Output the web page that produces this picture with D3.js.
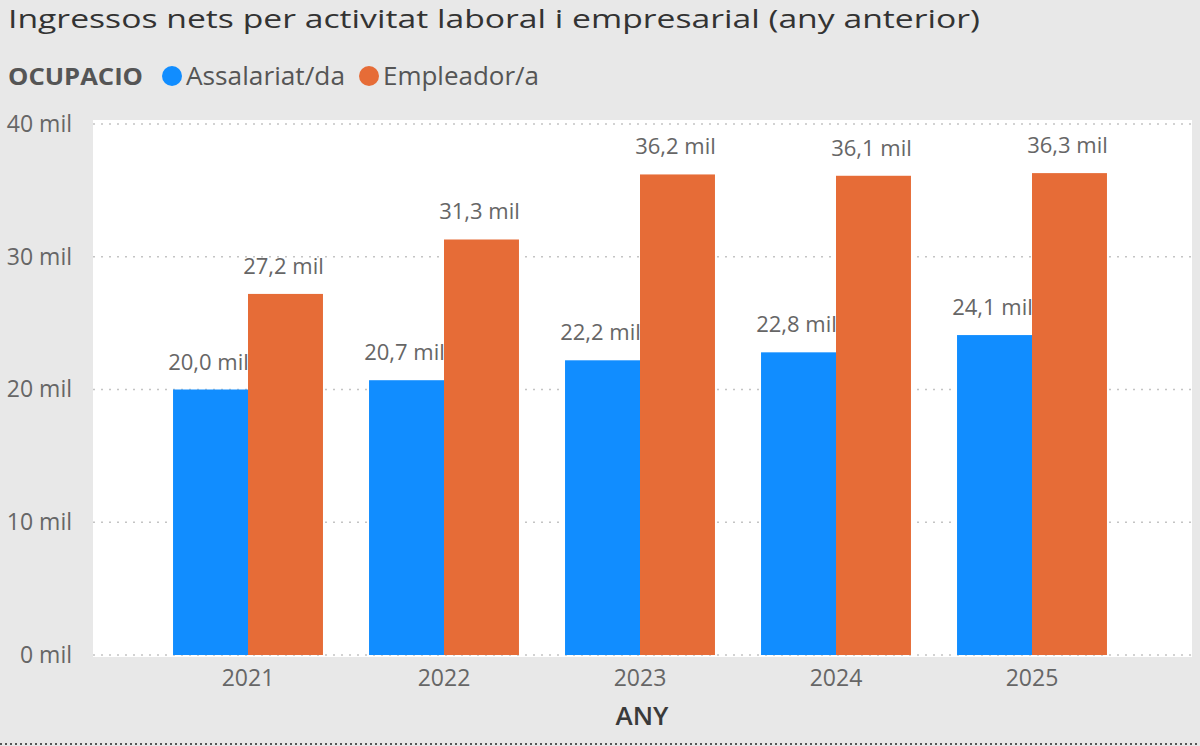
<!DOCTYPE html>
<html>
<head>
<meta charset="utf-8">
<script src="https://cdn.jsdelivr.net/npm/d3@7"></script>
<style>
  body { margin: 0; background: #e8e8e8; }
  text { font-family: "Open Sans", "Noto Sans", sans-serif; }
</style>
</head>
<body>
<div id="chart"></div>
<script>
const years = ["2021", "2022", "2023", "2024", "2025"];
const seriesNames = ["Assalariat/da", "Empleador/a"];
const assalariat = [20.0, 20.7, 22.2, 22.8, 24.1];
const empleador = [27.2, 31.3, 36.2, 36.1, 36.3];
const yTicks = [0, 10, 20, 30, 40];
const colors = ["#118dff", "#e66c37"];

const W = 1200, H = 746;
const PLOT_L = 93, PLOT_R = 1192, PLOT_T = 120, PLOT_B = 657;
const FONT = "'Open Sans', 'Noto Sans', sans-serif";

const svg = d3.select("#chart").append("svg")
    .attr("width", W)
    .attr("height", H);

svg.append("rect").attr("width", W).attr("height", H).attr("fill", "#e8e8e8");

// title and legend
svg.append("text")
    .attr("x", 8).attr("y", 28)
    .attr("font-size", 26)
    .attr("fill", "#333")
    .attr("textLength", 972)
    .attr("lengthAdjust", "spacingAndGlyphs")
    .text("Ingressos nets per activitat laboral i empresarial (any anterior)");

const legend = svg.append("g").attr("transform", "translate(0, 76)");
legend.append("text")
    .attr("x", 8).attr("y", 9)
    .attr("font-size", 24).attr("font-weight", "bold")
    .attr("fill", "#555")
    .attr("textLength", 135)
    .attr("lengthAdjust", "spacingAndGlyphs")
    .text("OCUPACIO");
const legendX = [172, 369];
const legendW = [159, 156];
seriesNames.forEach((name, i) => {
    legend.append("circle")
        .attr("cx", legendX[i]).attr("cy", 0).attr("r", 10)
        .attr("fill", colors[i]);
    legend.append("text")
        .attr("x", legendX[i] + 14).attr("y", 9)
        .attr("font-size", 25).attr("fill", "#555")
        .attr("textLength", legendW[i])
        .attr("lengthAdjust", "spacingAndGlyphs")
        .text(name);
});

// plot area
svg.append("rect")
    .attr("x", PLOT_L).attr("y", PLOT_T)
    .attr("width", PLOT_R - PLOT_L).attr("height", PLOT_B - PLOT_T)
    .attr("fill", "#fff");

const x = d3.scaleBand()
    .domain(years)
    .range([150, 1130])
    .paddingInner(0.235)
    .paddingOuter(0.1175);

const xSub = d3.scaleBand()
    .domain(seriesNames)
    .range([0, x.bandwidth()]);

const y = d3.scaleLinear()
    .domain([0, 40])
    .range([655, 124]);

// gridlines
svg.append("g")
    .selectAll("line")
    .data(yTicks)
    .join("line")
    .attr("x1", PLOT_L).attr("x2", PLOT_R)
    .attr("y1", d => y(d)).attr("y2", d => y(d))
    .attr("stroke", "#c4c4c4")
    .attr("stroke-width", 1.5)
    .attr("stroke-dasharray", "2,6");

const yAxis = d3.axisLeft(y)
    .tickValues(yTicks)
    .tickSize(0)
    .tickPadding(0)
    .tickFormat(d => d + " mil");

svg.append("g")
    .attr("transform", "translate(72,0)")
    .call(yAxis)
    .call(g => g.select(".domain").remove())
    .selectAll("text")
    .attr("font-size", 23)
    .attr("fill", "#666")
    .attr("font-family", FONT);

const xAxis = d3.axisBottom(x).tickSize(0).tickPadding(0);
svg.append("g")
    .attr("transform", "translate(0,670)")
    .call(xAxis)
    .call(g => g.select(".domain").remove())
    .selectAll("text")
    .attr("font-size", 23)
    .attr("fill", "#666")
    .attr("font-family", FONT);

svg.append("text")
    .attr("x", 642)
    .attr("y", 725)
    .attr("text-anchor", "middle")
    .attr("font-size", 26)
    .attr("font-weight", 600)
    .attr("fill", "#3a3a3a")
    .text("ANY");

// bars and labels
const fmt = v => v.toFixed(1).replace(".", ",") + " mil";
[assalariat, empleador].forEach((vals, s) => {
    const g = svg.append("g");
    g.selectAll("rect")
        .data(vals)
        .join("rect")
        .attr("x", (d, i) => x(years[i]) + xSub(seriesNames[s]))
        .attr("y", d => y(d))
        .attr("width", xSub.bandwidth())
        .attr("height", d => y(0) - y(d))
        .attr("fill", colors[s]);
    g.selectAll("text")
        .data(vals)
        .join("text")
        .attr("x", (d, i) => x(years[i]) + xSub(seriesNames[s]) + xSub.bandwidth() / 2 - 2)
        .attr("y", d => y(d) - 20)
        .attr("text-anchor", "middle")
        .attr("font-size", 22)
        .attr("fill", "#666")
        .text(fmt);
});

// bottom dotted border
svg.append("line")
    .attr("x1", 0).attr("x2", W)
    .attr("y1", 744).attr("y2", 744)
    .attr("stroke", "#555")
    .attr("stroke-width", 2)
    .attr("stroke-dasharray", "2,3");
</script>
</body>
</html>
